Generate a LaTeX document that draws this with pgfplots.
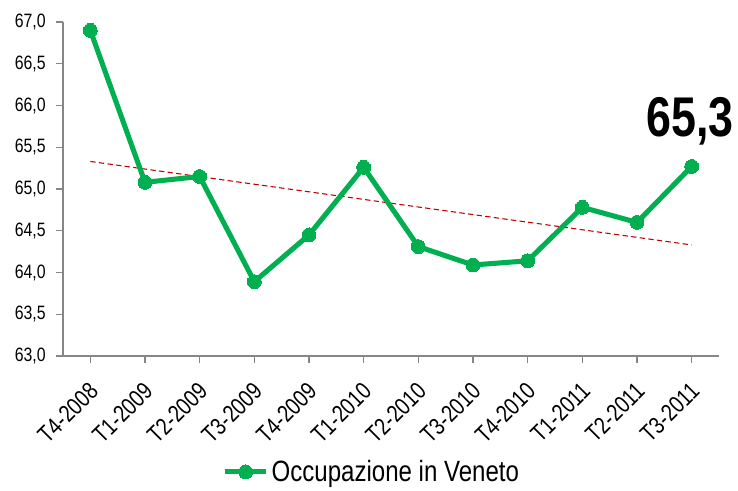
\documentclass[border=0pt]{standalone}
\usepackage{pgfplots}
\pgfplotsset{compat=1.18}
\usepackage{fontspec}
\setmainfont[FakeStretch=0.82]{Liberation Sans}
\newfontfamily\boldnarrow[FakeStretch=0.8]{Liberation Sans Bold}
\definecolor{vgreen}{HTML}{00B050}
\definecolor{tred}{HTML}{C00000}
\definecolor{axgray}{HTML}{868686}
\begin{document}
\begin{tikzpicture}
\begin{axis}[
  scale only axis,
  width=492pt, height=250.5pt,
  xmin=-0.5, xmax=11.5,
  ymin=63, ymax=67,
  ytick={63,63.5,...,67},
  xtick={0,...,11},
  xticklabels={T4-2008,T1-2009,T2-2009,T3-2009,T4-2009,T1-2010,T2-2010,T3-2010,T4-2010,T1-2011,T2-2011,T3-2011},
  x tick label style={xshift=-2pt, yshift=-12pt, rotate=45, anchor=north east, font=\fontsize{18}{20}\selectfont, inner sep=1pt},
  y tick label style={font=\fontsize{14.5}{16}\selectfont, xshift=-4.5pt},
  /pgf/number format/.cd, use comma, fixed, fixed zerofill, precision=1, assume math mode=true,
  /pgfplots/.cd,
  axis lines=left,
  axis line style={axgray, line width=1.1pt, -},
  tick style={axgray, line width=1pt},
  tick align=outside,
  major tick length=5pt,
  legend style={at={(axis description cs:0.471,-0.347)}, anchor=center, draw=none, font=\fontsize{22}{24}\selectfont, inner sep=0pt},
  legend image code/.code={\draw[mark repeat=2,mark phase=2,#1] plot coordinates {(0cm,0cm) (0.55cm,0cm) (1.1cm,0cm)};},
  clip=false,
]
\coordinate (bl) at (rel axis cs:0,0);
\addplot[tred, line width=0.8pt, forget plot, dash pattern=on 4pt off 2.5pt] coordinates {(0,65.33) (11,64.33)};
\addplot[vgreen, line width=3.8pt, mark=*, mark size=5.2pt, mark options={solid, fill=vgreen, draw=vgreen, line width=0pt}] coordinates {
(0,66.90) (1,65.08) (2,65.15) (3,63.89) (4,64.45) (5,65.26) (6,64.31) (7,64.09) (8,64.14) (9,64.78) (10,64.60) (11,65.27)};
\addlegendentry{Occupazione in Veneto}
\node[anchor=base, inner sep=0pt, font=\boldnarrow\fontsize{42}{44}\selectfont] at (axis cs:10.97,65.63) {65,3};
\end{axis}
\pgfresetboundingbox
\path (bl) ++(-47.25pt,-100.5pt) rectangle ++(553.5pt,367.5pt);
\end{tikzpicture}
\end{document}
